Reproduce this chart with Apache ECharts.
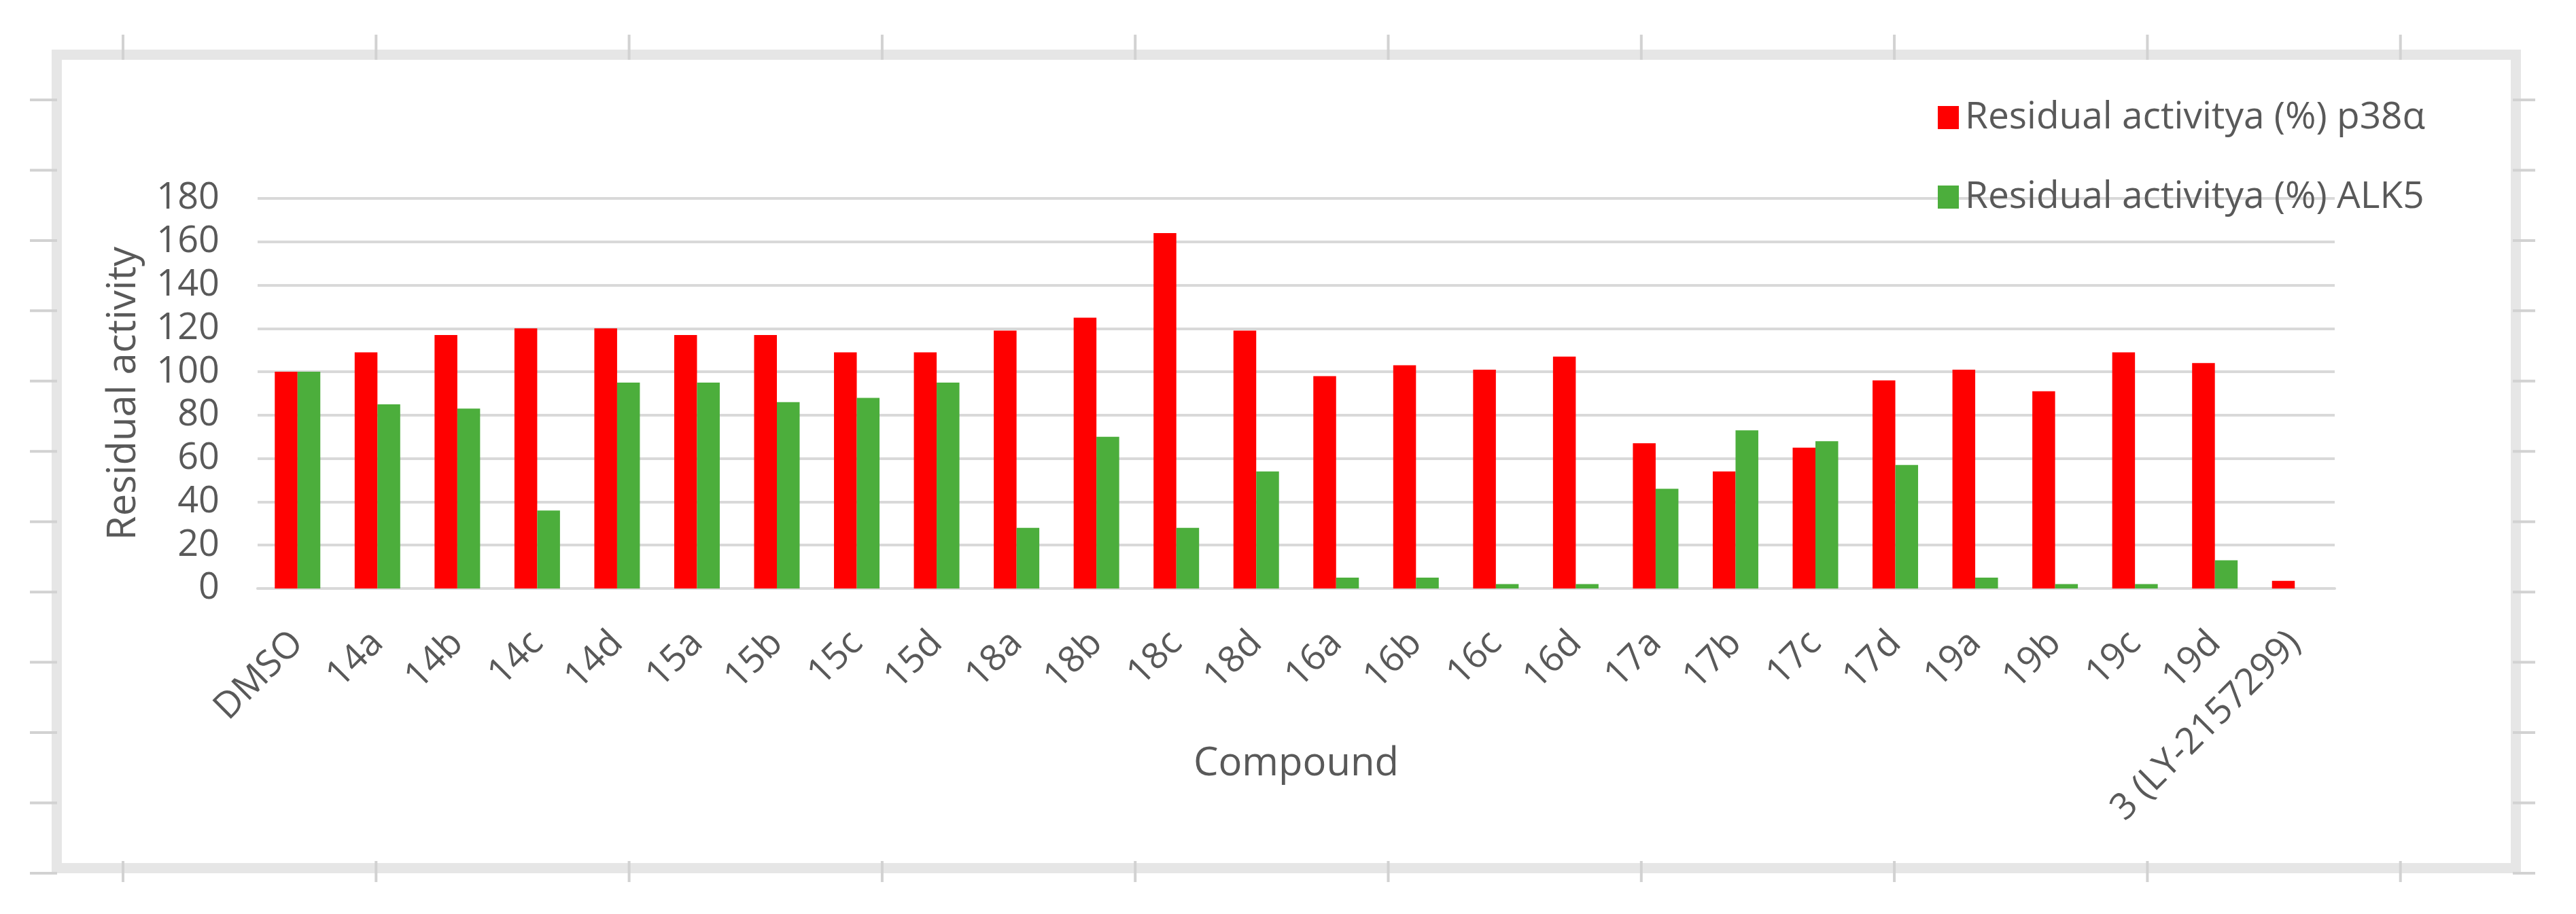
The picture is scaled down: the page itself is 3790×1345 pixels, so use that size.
<!DOCTYPE html>
<html>
<head>
<meta charset="utf-8">
<script src="https://cdn.jsdelivr.net/npm/echarts@6/dist/echarts.min.js"></script>
<style>
  html, body { margin: 0; padding: 0; background: #ffffff; }
  #chart { width: 3790px; height: 1345px; }
</style>
</head>
<body>
<div id="chart"></div>
<script>
// ---- Data ----
const categories = ['DMSO', '14a', '14b', '14c', '14d', '15a', '15b', '15c', '15d',
  '18a', '18b', '18c', '18d', '16a', '16b', '16c', '16d', '17a', '17b', '17c', '17d',
  '19a', '19b', '19c', '19d', '3 (LY-2157299)'];
const p38Values = [100, 109, 117, 120, 120, 117, 117, 109, 109, 119, 125, 164, 119,
  98, 103, 101, 107, 67, 54, 65, 96, 101, 91, 109, 104, 3.5];
const alk5Values = [100, 85, 83, 36, 95, 95, 86, 88, 95, 28, 70, 28, 54,
  5, 5, 2, 2, 46, 73, 68, 57, 5, 2, 2, 13, null];
const seriesNames = ['Residual activitya (%) p38\u03b1', 'Residual activitya (%) ALK5'];
const yTicks = { min: 0, max: 180, interval: 20 };
const axisNames = { x: 'Compound', y: 'Residual activity' };

// ---- Decorative screenshot frame (not data) ----
const frameColor = '#e6e6e6';
const tickColor = '#d2d2d2';
const graphics = [];
graphics.push({
  type: 'rect', silent: true, z: -1,
  shape: { x: 83.5, y: 80.5, width: 3618, height: 1197 },
  style: { fill: 'none', stroke: frameColor, lineWidth: 15 }
});
for (let k = 0; k < 10; k++) {
  const x = 181 + 372.3 * k;
  graphics.push({ type: 'line', silent: true, shape: { x1: x, y1: 51, x2: x, y2: 88 }, style: { stroke: tickColor, lineWidth: 4 } });
  graphics.push({ type: 'line', silent: true, shape: { x1: x, y1: 1267, x2: x, y2: 1298 }, style: { stroke: tickColor, lineWidth: 4 } });
}
for (let k = 0; k < 12; k++) {
  const y = 147 + 103.45 * k;
  graphics.push({ type: 'line', silent: true, shape: { x1: 44, y1: y, x2: 84, y2: y }, style: { stroke: tickColor, lineWidth: 4 } });
  graphics.push({ type: 'line', silent: true, shape: { x1: 3697, y1: y, x2: 3730, y2: y }, style: { stroke: tickColor, lineWidth: 4 } });
}

const FONT = '"Open Sans", "Noto Sans", sans-serif';
const textGrey = '#595959';

const chart = echarts.init(document.getElementById('chart'), null, { renderer: 'canvas' });
chart.setOption({
  backgroundColor: '#ffffff',
  animation: false,
  textStyle: { fontFamily: FONT },
  graphic: graphics,
  legend: {
    orient: 'vertical',
    left: 2846,
    top: 138,
    icon: 'rect',
    itemWidth: 31,
    itemHeight: 34,
    itemGap: 57,
    selectedMode: false,
    textStyle: { fontFamily: FONT, fontSize: 55, color: textGrey, lineHeight: 60, padding: [0, 0, 0, 4] },
    data: seriesNames
  },
  grid: { left: 379, right: 355, top: 292, bottom: 479, containLabel: false },
  xAxis: {
    type: 'category',
    data: categories,
    name: axisNames.x,
    nameLocation: 'middle',
    nameGap: 229,
    nameMoveOverlap: false,
    nameTextStyle: { fontFamily: FONT, fontSize: 58, color: textGrey },
    axisLine: { show: true, lineStyle: { color: '#d9d9d9', width: 4 } },
    axisTick: { show: false },
    axisLabel: { rotate: 45, interval: 0, margin: 72, fontFamily: FONT, fontSize: 54, color: textGrey },
    splitLine: { show: false }
  },
  yAxis: {
    type: 'value',
    min: yTicks.min,
    max: yTicks.max,
    interval: yTicks.interval,
    name: axisNames.y,
    nameLocation: 'middle',
    nameGap: 168,
    nameMoveOverlap: false,
    nameTextStyle: { fontFamily: FONT, fontSize: 58, color: textGrey },
    axisLine: { show: false },
    axisTick: { show: false },
    axisLabel: { margin: 56, fontFamily: FONT, fontSize: 54, color: textGrey },
    splitLine: { show: true, lineStyle: { color: '#d9d9d9', width: 4 } }
  },
  series: [
    {
      name: seriesNames[0], type: 'bar', data: p38Values,
      barGap: '0%', barCategoryGap: '43%',
      itemStyle: { color: '#ff0000' }
    },
    {
      name: seriesNames[1], type: 'bar', data: alk5Values,
      barGap: '0%', barCategoryGap: '43%',
      itemStyle: { color: '#4cae3c' }
    }
  ]
});
</script>
</body>
</html>
